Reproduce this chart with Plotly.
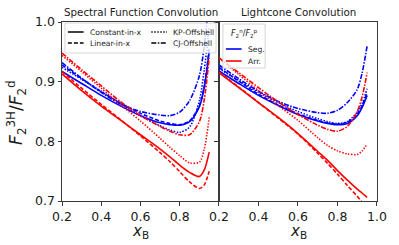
import plotly.graph_objects as go
from plotly.subplots import make_subplots

# ---------------- data ----------------
x_b = [0.2, 0.3, 0.4, 0.5, 0.6, 0.7, 0.75, 0.8, 0.85, 0.9, 0.925, 0.95]

# Spectral function convolution (left panel)
sf_seg_const = [0.917, 0.897, 0.877, 0.859, 0.843, 0.831, 0.828, 0.827, 0.833, 0.858, 0.890, 0.950]
sf_seg_linear = [0.928, 0.905, 0.883, 0.864, 0.847, 0.834, 0.830, 0.828, 0.834, 0.860, 0.893, 0.955]
sf_seg_kp = [0.924, 0.904, 0.884, 0.863, 0.843, 0.826, 0.819, 0.815, 0.824, 0.868, 0.920, 0.990]
sf_seg_cj = [0.932, 0.906, 0.882, 0.862, 0.850, 0.844, 0.843, 0.849, 0.868, 0.910, 0.960, 1.040]
sf_arr_const = [0.913, 0.885, 0.859, 0.835, 0.811, 0.787, 0.774, 0.760, 0.748, 0.741, 0.752, 0.782]
sf_arr_linear = [0.917, 0.889, 0.862, 0.836, 0.809, 0.781, 0.766, 0.749, 0.732, 0.721, 0.727, 0.750]
sf_arr_kp = [0.944, 0.917, 0.889, 0.861, 0.834, 0.805, 0.790, 0.776, 0.764, 0.765, 0.787, 0.840]
sf_arr_cj = [0.948, 0.920, 0.893, 0.866, 0.843, 0.825, 0.817, 0.811, 0.811, 0.833, 0.870, 0.940]

# Lightcone convolution (right panel)
lc_seg_const = [0.918, 0.897, 0.877, 0.860, 0.845, 0.834, 0.830, 0.828, 0.830, 0.843, 0.857, 0.877]
lc_seg_linear = [0.924, 0.901, 0.879, 0.861, 0.846, 0.835, 0.831, 0.829, 0.832, 0.846, 0.860, 0.882]
lc_seg_kp = [0.922, 0.902, 0.882, 0.865, 0.850, 0.838, 0.833, 0.830, 0.833, 0.849, 0.864, 0.888]
lc_seg_cj = [0.928, 0.905, 0.884, 0.867, 0.855, 0.848, 0.847, 0.852, 0.865, 0.887, 0.915, 0.960]
lc_arr_const = [0.915, 0.890, 0.865, 0.840, 0.813, 0.783, 0.768, 0.751, 0.735, 0.720, 0.713, 0.706]
lc_arr_linear = [0.916, 0.891, 0.865, 0.839, 0.812, 0.780, 0.763, 0.745, 0.726, 0.708, 0.698, 0.688]
lc_arr_kp = [0.940, 0.912, 0.885, 0.860, 0.835, 0.806, 0.793, 0.784, 0.779, 0.778, 0.784, 0.796]
lc_arr_cj = [0.940, 0.915, 0.890, 0.866, 0.845, 0.827, 0.820, 0.817, 0.825, 0.850, 0.875, 0.915]

model_names = ["Constant-in-x", "Linear-in-x", "KP-Offshell", "CJ-Offshell"]
ratio_names = ["Seg.", "Arr."]
panel_titles = ["Spectral Function Convolution", "Lightcone Convolution"]
x_ticks_left = [0.2, 0.4, 0.6, 0.8]
x_ticks_right = [0.2, 0.4, 0.6, 0.8, 1.0]
y_ticks = [0.7, 0.8, 0.9, 1.0]

# ---------------- styles ----------------
model_dash = ["solid", "4px,2px", "1.4px,1.6px", "5px,1.5px,1.5px,1.5px"]
ratio_color = ["#0000ff", "#ff0000"]
FONT = "DejaVu Sans"
INK = "#1a1a1a"

panels = [
    [[sf_seg_const, sf_seg_linear, sf_seg_kp, sf_seg_cj],
     [sf_arr_const, sf_arr_linear, sf_arr_kp, sf_arr_cj]],
    [[lc_seg_const, lc_seg_linear, lc_seg_kp, lc_seg_cj],
     [lc_arr_const, lc_arr_linear, lc_arr_kp, lc_arr_cj]],
]

fig = make_subplots(rows=1, cols=2, shared_yaxes=True, horizontal_spacing=0)

for p, panel in enumerate(panels):
    for r, series in enumerate(panel):
        for m, ys in enumerate(series):
            fig.add_trace(
                go.Scatter(
                    x=x_b, y=ys, mode="lines",
                    line=dict(color=ratio_color[r], width=1.6, dash=model_dash[m],
                              shape="spline", smoothing=0.8),
                    name=f"{ratio_names[r]} {model_names[m]}",
                    showlegend=False, hoverinfo="skip",
                ),
                row=1, col=p + 1,
            )

axis_common = dict(
    showline=True, linecolor="#3a3a3a", linewidth=1, mirror=True,
    ticks="outside", ticklen=3.5, tickwidth=1, tickcolor="#3a3a3a",
    showgrid=False, zeroline=False,
    tickfont=dict(family=FONT, size=12.5, color=INK),
)
fig.update_xaxes(range=[0.2, 1.0], tickvals=x_ticks_left,
                 ticktext=[f"{v:.1f}" for v in x_ticks_left], row=1, col=1, **axis_common)
fig.update_xaxes(range=[0.2, 1.0], tickvals=x_ticks_right,
                 ticktext=[f"{v:.1f}" for v in x_ticks_right], row=1, col=2, **axis_common)
fig.update_yaxes(range=[0.7, 1.0], tickvals=y_ticks,
                 ticktext=[f"{v:.1f}" for v in y_ticks], row=1, col=1, **axis_common)
fig.update_yaxes(range=[0.7, 1.0], tickvals=y_ticks, showticklabels=False,
                 row=1, col=2, **axis_common)

W, H = 399, 245
ML, MR, MT, MB = 62, 16, 22, 44
fig.update_layout(
    width=W, height=H,
    margin=dict(l=ML, r=MR, t=MT, b=MB, pad=0),
    paper_bgcolor="white", plot_bgcolor="white",
    showlegend=False,
    font=dict(family=FONT, color=INK),
)
fig.layout.xaxis.domain = [0, 0.4984]
fig.layout.xaxis2.domain = [0.4984, 1]

PW = W - ML - MR
PH = H - MT - MB


def px_to_paper(px, py):
    return (px - ML) / PW, (H - MB - py) / PH


annotations = []
shapes = []

# panel titles and x titles
for i, title in enumerate(panel_titles):
    cx = 142 if i == 0 else 302.5
    ax, ay = px_to_paper(cx, 12)
    annotations.append(dict(text=title, x=ax, y=ay, xref="paper", yref="paper",
                            showarrow=False, xanchor="center", yanchor="middle",
                            font=dict(family=FONT, size=10.3, color=INK)))
    ax, ay = px_to_paper(cx, 220)
    annotations.append(dict(text="<i>x</i><sub>B</sub>", x=ax, y=ay, xref="paper", yref="paper",
                            showarrow=False, xanchor="center", yanchor="top",
                            font=dict(family=FONT, size=15, color=INK)))

# y title
ax, ay = px_to_paper(15, 112)
annotations.append(dict(text="<i>F</i><sub>2</sub><sup>3H</sup>/<i>F</i><sub>2</sub><sup>d</sup>",
                        x=ax, y=ay, xref="paper", yref="paper", textangle=-90,
                        showarrow=False, xanchor="center", yanchor="middle",
                        font=dict(family=FONT, size=17, color=INK)))

# legend 1 (line styles)
x0, y0 = px_to_paper(65, 23)
x1, y1 = px_to_paper(219, 53)
shapes.append(dict(type="rect", xref="paper", yref="paper", x0=x0, y0=y1, x1=x1, y1=y0,
                   line=dict(color="#cccccc", width=0.8), fillcolor="rgba(255,255,255,0.8)",
                   layer="above"))
leg_cols = [68, 153]
leg_rows = [32, 43]
for m, name in enumerate(model_names):
    col = m // 2
    row = m % 2
    lx, ly = px_to_paper(leg_cols[col], leg_rows[row])
    lx2, _ = px_to_paper(leg_cols[col] + 16, leg_rows[row])
    shapes.append(dict(type="line", xref="paper", yref="paper", x0=lx, x1=lx2, y0=ly, y1=ly,
                       line=dict(color="black", width=1.5, dash=model_dash[m]), layer="above"))
    tx, _ = px_to_paper(leg_cols[col] + 20, leg_rows[row])
    annotations.append(dict(text=name, x=tx, y=ly, xref="paper", yref="paper",
                            showarrow=False, xanchor="left", yanchor="middle",
                            font=dict(family=FONT, size=7.6, color=INK)))

# legend 2 (ratio models)
x0, y0 = px_to_paper(226, 24)
x1, y1 = px_to_paper(269, 68)
shapes.append(dict(type="rect", xref="paper", yref="paper", x0=x0, y0=y1, x1=x1, y1=y0,
                   line=dict(color="#cccccc", width=0.8), fillcolor="rgba(255,255,255,0.8)",
                   layer="above"))
tx, ty = px_to_paper(248, 33)
annotations.append(dict(text="<i>F</i><sub>2</sub><sup>n</sup>/<i>F</i><sub>2</sub><sup>p</sup>",
                        x=tx, y=ty, xref="paper", yref="paper",
                        showarrow=False, xanchor="center", yanchor="middle",
                        font=dict(family=FONT, size=8, color=INK)))
for r, name in enumerate(ratio_names):
    ry = 49 + 12 * r
    lx, ly = px_to_paper(229, ry)
    lx2, _ = px_to_paper(245, ry)
    shapes.append(dict(type="line", xref="paper", yref="paper", x0=lx, x1=lx2, y0=ly, y1=ly,
                       line=dict(color=ratio_color[r], width=1.6), layer="above"))
    tx, _ = px_to_paper(250, ry)
    annotations.append(dict(text=name, x=tx, y=ly, xref="paper", yref="paper",
                            showarrow=False, xanchor="left", yanchor="middle",
                            font=dict(family=FONT, size=7.6, color=INK)))

fig.update_layout(annotations=annotations, shapes=shapes)
fig.write_html("out.html", config={"displayModeBar": False},
               post_script="document.body.style.margin='0';document.body.style.padding='0';")
